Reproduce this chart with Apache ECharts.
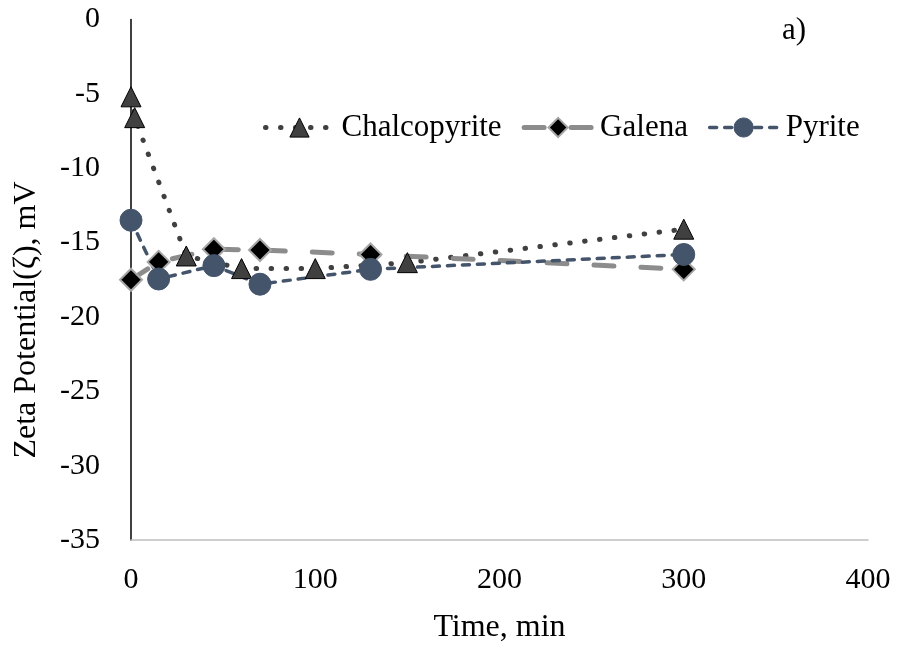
<!DOCTYPE html>
<html>
<head>
<meta charset="utf-8">
<script src="https://cdn.jsdelivr.net/npm/echarts@6/dist/echarts.min.js"></script>
<style>
  html, body { margin: 0; padding: 0; background: #ffffff; }
  #chart { width: 899px; height: 649px; }
</style>
</head>
<body>
<div id="chart"></div>
<script>
// Zeta potential (mV) over conditioning time (min) for three sulfide minerals
const chalcopyriteTime = [0, 2, 30, 60, 100, 150, 300];
const chalcopyriteZeta = [-5.2, -6.6, -15.9, -16.75, -16.75, -16.35, -14.1];

const galenaTime = [0, 15, 45, 70, 130, 300];
const galenaZeta = [-17.5, -16.3, -15.45, -15.5, -15.8, -16.8];

const pyriteTime = [0, 15, 45, 70, 130, 300];
const pyriteZeta = [-13.5, -17.45, -16.55, -17.8, -16.8, -15.8];

const xTicks = { min: 0, max: 400, step: 100 };
const yTicks = { min: -35, max: 0, step: 5 };

const FONT = '"Liberation Serif", "Times New Roman", serif';

// per-series line looks, shared by the plot and the legend keys
const STYLE = {
  chalcopyrite: {
    item: { color: '#404040', borderColor: '#000000', borderWidth: 1 },
    line: { color: '#404040', width: 5, type: [0.5, 14.5], cap: 'round' }
  },
  galena: {
    item: { color: '#000000', borderColor: '#a6a6a6', borderWidth: 2 },
    line: { color: '#8c8c8c', width: 5, type: [20, 27], cap: 'round' }
  },
  pyrite: {
    item: { color: '#44546a', borderColor: '#44546a', borderWidth: 1 },
    line: { color: '#44546a', width: 3.5, type: [7, 8], cap: 'round' }
  }
};

function pairs(xs, ys) {
  return xs.map((x, i) => [x, ys[i]]);
}

const chart = echarts.init(document.getElementById('chart'), null, { renderer: 'canvas' });

chart.setOption({
  backgroundColor: '#ffffff',
  animation: false,
  textStyle: { fontFamily: FONT, color: '#000000' },
  grid: { left: 131, right: 31, top: 19.5, bottom: 104, containLabel: false },
  legend: {
    left: 258,
    top: 107,
    itemWidth: 68,
    itemHeight: 24,
    itemGap: 20,
    textStyle: { fontFamily: FONT, fontSize: 31, color: '#000000', padding: [0, 0, 0, 3] },
    data: [
      { name: 'Chalcopyrite', itemStyle: STYLE.chalcopyrite.item, lineStyle: STYLE.chalcopyrite.line },
      { name: 'Galena', itemStyle: STYLE.galena.item, lineStyle: STYLE.galena.line },
      { name: 'Pyrite', itemStyle: STYLE.pyrite.item, lineStyle: STYLE.pyrite.line }
    ]
  },
  xAxis: {
    type: 'value',
    min: xTicks.min,
    max: xTicks.max,
    interval: xTicks.step,
    name: 'Time, min',
    nameLocation: 'middle',
    nameGap: 72,
    nameTextStyle: { fontFamily: FONT, fontSize: 32, color: '#000000' },
    axisLine: { onZero: false, lineStyle: { color: '#bfbfbf', width: 1.5 } },
    axisTick: { show: false },
    splitLine: { show: false },
    axisLabel: { fontFamily: FONT, fontSize: 30, color: '#000000', margin: 25 }
  },
  yAxis: {
    type: 'value',
    min: yTicks.min,
    max: yTicks.max,
    interval: yTicks.step,
    axisLine: { show: true, onZero: false, lineStyle: { color: '#000000', width: 1.5 } },
    axisTick: { show: false },
    splitLine: { show: false },
    axisLabel: { fontFamily: FONT, fontSize: 30, color: '#000000', margin: 31 }
  },
  graphic: [
    {
      type: 'text',
      left: 782,
      top: 15,
      style: { text: 'a)', font: '31px ' + FONT, fill: '#000000' }
    },
    {
      type: 'text',
      x: 27,
      y: 320,
      rotation: Math.PI / 2,
      style: {
        text: 'Zeta Potential(ζ), mV',
        font: '32px ' + FONT,
        fill: '#000000',
        align: 'center',
        verticalAlign: 'middle'
      }
    }
  ],
  series: [
    {
      name: 'Chalcopyrite',
      type: 'line',
      data: pairs(chalcopyriteTime, chalcopyriteZeta),
      symbol: 'triangle',
      symbolSize: [20, 20],
      itemStyle: STYLE.chalcopyrite.item,
      lineStyle: STYLE.chalcopyrite.line
    },
    {
      name: 'Galena',
      type: 'line',
      data: pairs(galenaTime, galenaZeta),
      symbol: 'diamond',
      symbolSize: [22, 22],
      itemStyle: STYLE.galena.item,
      lineStyle: STYLE.galena.line
    },
    {
      name: 'Pyrite',
      type: 'line',
      data: pairs(pyriteTime, pyriteZeta),
      symbol: 'circle',
      symbolSize: 22,
      itemStyle: STYLE.pyrite.item,
      lineStyle: STYLE.pyrite.line
    }
  ]
});
</script>
</body>
</html>
